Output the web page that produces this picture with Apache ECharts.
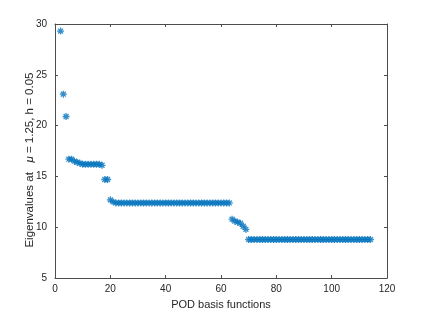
<!DOCTYPE html>
<html>
<head>
<meta charset="utf-8">
<script src="https://cdn.jsdelivr.net/npm/echarts@6/dist/echarts.min.js"></script>
<style>html,body{margin:0;padding:0;background:#fff}#c{width:428px;height:315px}</style>
</head>
<body>
<div id="c"></div>
<script>
const basisIndex = [2,3,4,5,6,7,8,9,10,11,12,13,14,15,16,17,18,19,20,21,
22,23,24,25,26,27,28,29,30,31,32,33,34,35,36,37,38,39,40,41,42,43,44,45,46,47,48,49,50,51,52,53,54,55,56,57,58,59,60,61,62,63,
64,65,66,67,68,69,
70,71,72,73,74,75,76,77,78,79,80,81,82,83,84,85,86,87,88,89,90,91,92,93,94,95,96,97,98,99,100,101,102,103,104,105,106,107,108,109,110,111,112,113,114];
const eigenvalues = [29.3,23.1,20.9,16.7,16.7,16.5,16.4,16.3,16.2,16.2,16.2,16.2,16.2,16.2,16.2,16.1,14.7,14.7,12.7,12.5,
12.4,12.4,12.4,12.4,12.4,12.4,12.4,12.4,12.4,12.4,12.4,12.4,12.4,12.4,12.4,12.4,12.4,12.4,12.4,12.4,12.4,12.4,12.4,12.4,12.4,12.4,12.4,12.4,12.4,12.4,12.4,12.4,12.4,12.4,12.4,12.4,12.4,12.4,12.4,12.4,12.4,12.4,
10.8,10.6,10.5,10.4,10.1,9.8,
8.8,8.8,8.8,8.8,8.8,8.8,8.8,8.8,8.8,8.8,8.8,8.8,8.8,8.8,8.8,8.8,8.8,8.8,8.8,8.8,8.8,8.8,8.8,8.8,8.8,8.8,8.8,8.8,8.8,8.8,8.8,8.8,8.8,8.8,8.8,8.8,8.8,8.8,8.8,8.8,8.8,8.8,8.8,8.8,8.8];
const xTicks = [0,20,40,60,80,100,120];
const yTicks = [5,10,15,20,25,30];

const axisCol = '#262626';
const lineStyle = {color: '#4d4d4d', width: 1};
const font = 'Liberation Sans';
const points = basisIndex.map((x, i) => [x, eigenvalues[i]]);

const chart = echarts.init(document.getElementById('c'), null, {renderer: 'canvas'});
chart.setOption({
  animation: false,
  grid: {left: 55, right: 41, top: 24, bottom: 35},
  xAxis: [{
    type: 'value', min: xTicks[0], max: xTicks[xTicks.length-1], interval: 20,
    position: 'bottom',
    axisLine: {show: true, onZero: false, lineStyle},
    axisTick: {show: true, inside: true, length: 3, lineStyle},
    axisLabel: {color: axisCol, fontFamily: font, fontSize: 10, margin: 6},
    splitLine: {show: false},
    name: 'POD basis functions', nameLocation: 'middle', nameGap: 19,
    nameTextStyle: {color: axisCol, fontFamily: font, fontSize: 11}
  }, {
    type: 'value', min: xTicks[0], max: xTicks[xTicks.length-1], interval: 20,
    position: 'top',
    axisLine: {show: true, onZero: false, lineStyle},
    axisTick: {show: true, inside: true, length: 3, lineStyle},
    axisLabel: {show: false}, splitLine: {show: false}
  }],
  yAxis: [{
    type: 'value', min: yTicks[0], max: yTicks[yTicks.length-1], interval: 5,
    position: 'left',
    axisLine: {show: true, onZero: false, lineStyle},
    axisTick: {show: true, inside: true, length: 3, lineStyle},
    axisLabel: {color: axisCol, fontFamily: font, fontSize: 10, margin: 8},
    splitLine: {show: false},
    name: '{n|Eigenvalues at   }{i|μ}{n| = 1.25, h = 0.05}', nameLocation: 'middle', nameGap: 19,
    nameMoveOverlap: false,
    nameTextStyle: {color: axisCol, fontFamily: font, fontSize: 11.5, padding: [0, 18, 0, 0],
      rich: {n: {fontFamily: font, fontSize: 11.5, color: axisCol}, i: {fontFamily: font, fontSize: 11.5, fontStyle: 'italic', color: axisCol}}}
  }, {
    type: 'value', min: yTicks[0], max: yTicks[yTicks.length-1], interval: 5,
    position: 'right',
    axisLine: {show: true, onZero: false, lineStyle},
    axisTick: {show: true, inside: true, length: 3, lineStyle},
    axisLabel: {show: false}, splitLine: {show: false}
  }],
  series: [{
    type: 'scatter',
    xAxisIndex: 0, yAxisIndex: 0,
    data: points,
    symbol: 'path://M0,5L10,5M5,0L5,10M1.5,1.5L8.5,8.5M8.5,1.5L1.5,8.5',
    symbolSize: 7,
    itemStyle: {color: 'none', borderColor: '#0072BD', borderWidth: 1.3},
    emphasis: {disabled: true}
  }]
});
</script>
</body>
</html>
